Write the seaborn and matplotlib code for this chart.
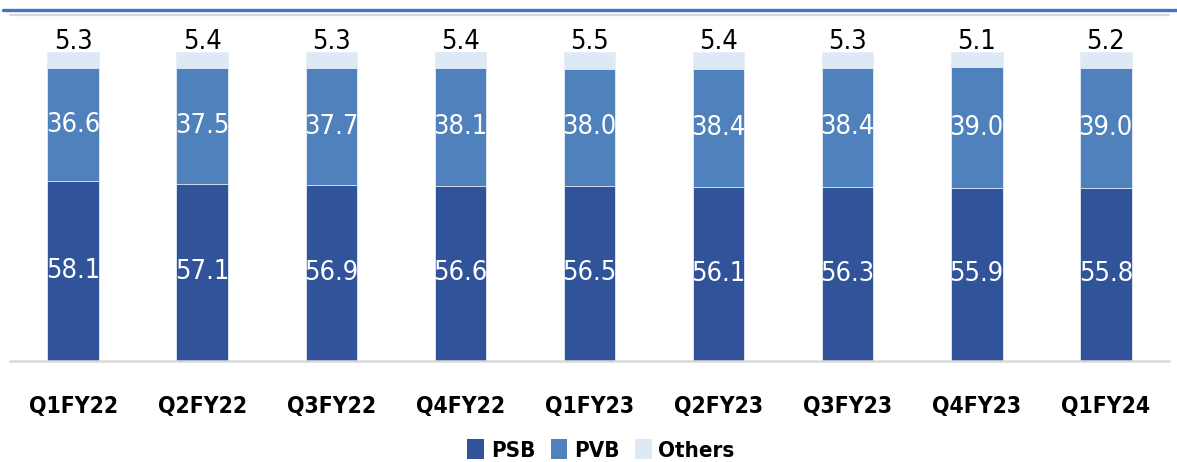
import matplotlib
matplotlib.use("Agg")
import matplotlib.pyplot as plt
from matplotlib.lines import Line2D
from matplotlib.patches import Patch
import pandas as pd
import seaborn as sns

quarters = ["Q1FY22", "Q2FY22", "Q3FY22", "Q4FY22", "Q1FY23",
            "Q2FY23", "Q3FY23", "Q4FY23", "Q1FY24"]
psb = [58.1, 57.1, 56.9, 56.6, 56.5, 56.1, 56.3, 55.9, 55.8]
pvb = [36.6, 37.5, 37.7, 38.1, 38.0, 38.4, 38.4, 39.0, 39.0]
others = [5.3, 5.4, 5.3, 5.4, 5.5, 5.4, 5.3, 5.1, 5.2]
series = ["PSB", "PVB", "Others"]

colors = {"PSB": "#30539a", "PVB": "#4f81bd", "Others": "#ddeaf6"}

sns.set_theme(style="white")
plt.rcParams["font.family"] = ["DejaVu Sans Condensed", "Liberation Sans Narrow",
                               "DejaVu Sans"]
plt.rcParams["font.stretch"] = "condensed"
plt.rcParams["text.color"] = "black"

df = pd.DataFrame({"quarter": quarters, "PSB": psb, "PVB": pvb, "Others": others})
df["lvl_psb"] = df["PSB"]
df["lvl_pvb"] = df["PSB"] + df["PVB"]
df["lvl_all"] = df["PSB"] + df["PVB"] + df["Others"]

W, H = 1177, 462
fig = plt.figure(figsize=(W / 100, H / 100), dpi=100)
ax = fig.add_axes([10 / W, 1 - 360.7 / H, (1169 - 10) / W, (360.7 - 51.7) / H])

# stacked bars drawn as overlapping cumulative levels
for col, name in [("lvl_all", "Others"), ("lvl_pvb", "PVB"), ("lvl_psb", "PSB")]:
    sns.barplot(data=df, x="quarter", y=col, color=colors[name], width=0.4,
                saturation=1, edgecolor="#e8eef7", linewidth=0.6, ax=ax, zorder=2)

ax.set_xlim(-0.49, 8.49)
ax.set_ylim(0, 100)
ax.set_xlabel("")
ax.set_ylabel("")
ax.set_yticks([])
for s in ["top", "left", "right"]:
    ax.spines[s].set_visible(False)
ax.spines["bottom"].set_color("#d9d9d9")
ax.spines["bottom"].set_linewidth(1.8)
ax.tick_params(axis="x", length=0, pad=25)
for lbl in ax.get_xticklabels():
    lbl.set_fontsize(16.5)
    lbl.set_fontweight("bold")
    lbl.set_color("black")

# value labels
for i in range(len(quarters)):
    ax.text(i, psb[i] / 2, f"{psb[i]:.1f}", ha="center", va="center",
            color="white", fontsize=19.5, zorder=5)
    ax.text(i, psb[i] + pvb[i] / 2, f"{pvb[i]:.1f}", ha="center", va="center",
            color="white", fontsize=19.5, zorder=5)
    top = psb[i] + pvb[i] + others[i]
    ax.annotate(f"{others[i]:.1f}", xy=(i, top), xytext=(0, 2),
                textcoords="offset points", ha="center", va="baseline",
                color="black", fontsize=19.5, annotation_clip=False, zorder=5)

# header rules
fig.add_artist(Line2D([3 / W, 1.0], [1 - 10 / H, 1 - 10 / H],
                      color="#4472c4", linewidth=2.4, transform=fig.transFigure))
fig.add_artist(Line2D([10 / W, 1169 / W], [1 - 14.7 / H, 1 - 14.7 / H],
                      color="#d9d9d9", linewidth=1.6, transform=fig.transFigure))

handles = [Patch(facecolor=colors[s], edgecolor="none", label=s) for s in series]
leg = fig.legend(handles=handles, loc="center", bbox_to_anchor=(601 / W, 1 - 450 / H),
                 ncol=3, frameon=False, handlelength=0.75, handleheight=1.0,
                 handletextpad=0.3, columnspacing=0.7,
                 prop={"size": 16, "weight": "bold"})
for t in leg.get_texts():
    t.set_color("black")

fig.savefig("out.png", dpi=100)
